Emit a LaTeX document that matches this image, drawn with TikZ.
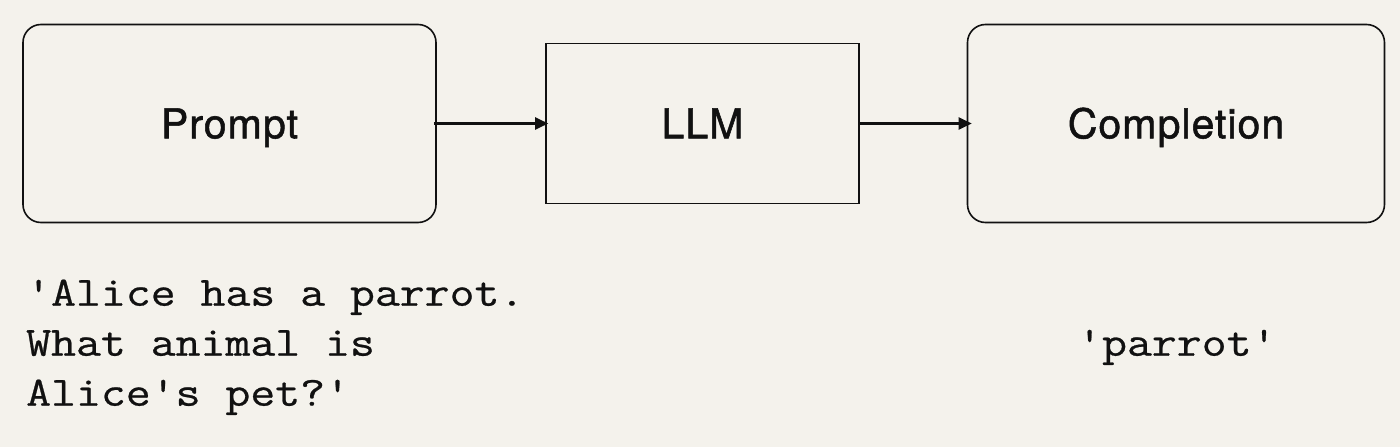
\documentclass[tikz,border=0pt]{standalone}
\usepackage{fontspec}
\newfontfamily\labelfont[LetterSpace=2.5,FakeBold=1.3]{TeX Gyre Heros}
\newfontfamily\codefont[FakeStretch=1.16,FakeBold=0.6]{Latin Modern Mono}
\usetikzlibrary{arrows.meta}
\definecolor{bg}{HTML}{F4F2EC}
\definecolor{ink}{HTML}{111111}
\tikzset{
  box/.style={draw=ink, line width=1.6pt, fill=bg, inner sep=0pt,
    font=\labelfont\fontsize{41}{50}\selectfont, text=ink,
    text height=29.5pt, text depth=0pt},
  roundbox/.style={box, rounded corners=18pt},
  arr/.style={draw=ink, line width=2.2pt, -{Triangle[length=13pt,width=12pt]}},
  code/.style={inner sep=0pt, anchor=base west, text=ink,
    font=\codefont\fontsize{41.7}{50}\selectfont}
}
\begin{document}
\begin{tikzpicture}[x=1pt,y=-1pt]
  \fill[bg] (0,0) rectangle (1400,447);
  \useasboundingbox (0,0) rectangle (1400,447);
  \node[roundbox, minimum width=413pt, minimum height=198pt] (prompt) at (229.5,123.5) {Prompt};
  \node[box, minimum width=313pt, minimum height=160pt] (llm) at (702.5,123.5) {LLM};
  \node[roundbox, minimum width=417pt, minimum height=198pt] (completion) at (1176,123.5) {Completion};
  \draw[arr] ([xshift=-3pt]prompt.east) -- ([xshift=3pt]llm.west);
  \draw[arr] (llm.east) -- ([xshift=5pt]completion.west);
  \node[code] (p1) at (26,305.7) {'Alice has a parrot.};
  \node[code] (p2) at (26,355.7) {What animal is};
  \node[code] (p3) at (26,405.7) {Alice's pet?'};
  \node[code] (answer) at (1077,355.7) {'parrot'};
\end{tikzpicture}
\end{document}
